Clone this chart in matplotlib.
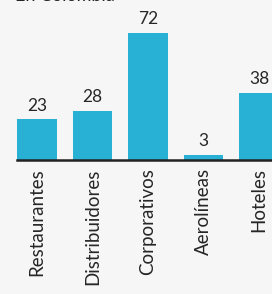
import matplotlib
matplotlib.use("Agg")
import matplotlib.pyplot as plt

# Data
categories = ["Restaurantes", "Distribuidores", "Corporativos", "Aerolíneas", "Hoteles"]
values = [23, 28, 72, 3, 38]

bar_color = "#29b1d5"
text_color = "#262626"
bg = "#f6f6f6"

plt.rcParams["font.family"] = ["Lato", "DejaVu Sans"]

fig = plt.figure(figsize=(2.72, 2.94), dpi=100, facecolor=bg)
ax = fig.add_axes([17 / 272, 134 / 294, 255 / 272, 160 / 294])
ax.set_facecolor(bg)

x = range(len(categories))
bars = ax.bar(x, values, width=0.72, color=bar_color)
for xi, v in zip(x, values):
    ax.annotate(str(v), (xi, v), xytext=(0, 4), textcoords="offset points",
                ha="center", va="bottom", fontsize=12.5, color=text_color)

ax.set_xlim(-0.36, 4.234)
ax.set_ylim(0, 90.7)
ax.set_xticks(list(x))
ax.set_xticklabels(categories, rotation=90, fontsize=13.5, color=text_color)
ax.tick_params(axis="x", length=0, pad=6)
ax.set_yticks([])
for s in ["top", "right", "left"]:
    ax.spines[s].set_visible(False)
ax.spines["bottom"].set_color("#222222")
ax.spines["bottom"].set_linewidth(1.8)

# Title mostly cut off at the top edge
fig.text(15 / 272, 1 - 1.2 / 294, "En Colombia", fontsize=13, color=text_color,
         ha="left", va="baseline")

fig.savefig("out.png", dpi=100, facecolor=bg)
